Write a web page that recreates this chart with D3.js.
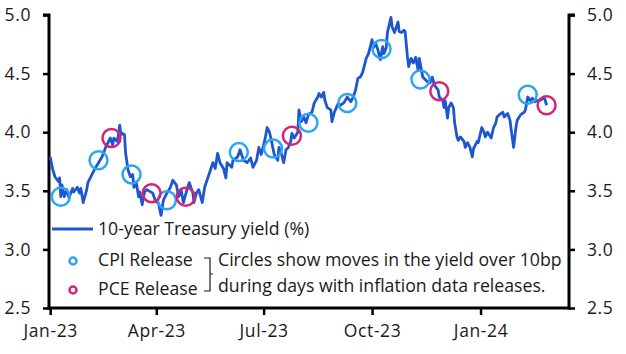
<!DOCTYPE html>
<html>
<head>
<meta charset="utf-8">
<script src="https://cdn.jsdelivr.net/npm/d3@7"></script>
<style>
  body { margin: 0; background: #fff; }
  svg { display: block; font-family: "Open Sans", Lato, sans-serif; }
</style>
</head>
<body>
<div id="chart"></div>
<script>
// 10-year Treasury yield
const yieldDates = [
  "2023-01-01","2023-01-03","2023-01-05","2023-01-08","2023-01-09","2023-01-10","2023-01-11","2023-01-13",
  "2023-01-15","2023-01-17","2023-01-20","2023-01-21","2023-01-24","2023-01-26","2023-01-27","2023-01-29",
  "2023-02-01","2023-02-02","2023-02-06","2023-02-08","2023-02-11","2023-02-14","2023-02-17","2023-02-19",
  "2023-02-21","2023-02-23","2023-02-24","2023-02-27","2023-03-01","2023-03-02","2023-03-03","2023-03-05",
  "2023-03-06","2023-03-08","2023-03-10","2023-03-12","2023-03-13","2023-03-15","2023-03-17","2023-03-18",
  "2023-03-20","2023-03-22","2023-03-24","2023-03-29","2023-03-31","2023-04-03","2023-04-05","2023-04-07",
  "2023-04-10","2023-04-13","2023-04-15","2023-04-18","2023-04-20","2023-04-22","2023-04-24","2023-04-27",
  "2023-04-29","2023-05-02","2023-05-03","2023-05-05","2023-05-07","2023-05-10","2023-05-12","2023-05-14",
  "2023-05-17","2023-05-19","2023-05-21","2023-05-23","2023-05-25","2023-05-28","2023-05-30","2023-05-31",
  "2023-06-04","2023-06-05","2023-06-09","2023-06-11","2023-06-14","2023-06-17","2023-06-20","2023-06-22",
  "2023-06-25","2023-06-27","2023-06-29","2023-07-02","2023-07-04","2023-07-06","2023-07-08","2023-07-10",
  "2023-07-13","2023-07-14","2023-07-16","2023-07-18","2023-07-20","2023-07-22","2023-07-24","2023-07-25",
  "2023-07-27","2023-07-30","2023-07-31","2023-08-02","2023-08-04","2023-08-06","2023-08-08","2023-08-11",
  "2023-08-13","2023-08-16","2023-08-17","2023-08-19","2023-08-21","2023-08-22","2023-08-24","2023-08-27",
  "2023-08-28","2023-08-30","2023-09-02","2023-09-04","2023-09-07","2023-09-10","2023-09-13","2023-09-15",
  "2023-09-17","2023-09-19","2023-09-21","2023-09-23","2023-09-25","2023-09-26","2023-09-28","2023-10-01",
  "2023-10-02","2023-10-04","2023-10-06","2023-10-08","2023-10-10","2023-10-11","2023-10-13","2023-10-14",
  "2023-10-17","2023-10-18","2023-10-20","2023-10-23","2023-10-24","2023-10-26","2023-10-28","2023-10-29",
  "2023-10-31","2023-11-01","2023-11-03","2023-11-05","2023-11-07","2023-11-09","2023-11-10","2023-11-13",
  "2023-11-15","2023-11-17","2023-11-19","2023-11-21","2023-11-23","2023-11-26","2023-11-27","2023-11-30",
  "2023-12-01","2023-12-02","2023-12-04","2023-12-05","2023-12-07","2023-12-09","2023-12-10","2023-12-12",
  "2023-12-13","2023-12-15","2023-12-18","2023-12-19","2023-12-21","2023-12-23","2023-12-25","2023-12-26",
  "2023-12-29","2023-12-30","2024-01-02","2024-01-04","2024-01-05","2024-01-07","2024-01-10","2024-01-12",
  "2024-01-14","2024-01-15","2024-01-17","2024-01-20","2024-01-21","2024-01-24","2024-01-26","2024-01-27",
  "2024-01-29","2024-01-31","2024-02-01","2024-02-04","2024-02-07","2024-02-08","2024-02-10","2024-02-12",
  "2024-02-14","2024-02-16","2024-02-18","2024-02-20","2024-02-23","2024-02-24","2024-02-26"
];
const yieldValues = [
  3.79,3.69,3.62,3.58,3.61,3.45,3.55,3.45,
  3.51,3.44,3.52,3.49,3.53,3.48,3.52,3.40,
  3.51,3.57,3.65,3.69,3.74,3.79,3.87,3.91,
  3.95,3.89,3.95,3.92,4.06,3.98,3.99,3.98,
  3.82,3.68,3.62,3.64,3.53,3.57,3.45,3.49,
  3.38,3.49,3.51,3.48,3.42,3.39,3.29,3.42,
  3.48,3.53,3.59,3.55,3.45,3.51,3.40,3.51,
  3.57,3.48,3.40,3.48,3.51,3.40,3.53,3.59,
  3.68,3.74,3.69,3.82,3.74,3.69,3.61,3.74,
  3.70,3.76,3.79,3.85,3.76,3.74,3.78,3.70,
  3.76,3.87,3.81,3.93,4.04,4.00,3.91,3.81,
  3.76,3.87,3.82,3.74,3.85,3.87,3.92,3.99,
  3.95,4.00,4.19,4.09,4.13,4.08,4.15,4.17,
  4.25,4.30,4.33,4.30,4.34,4.27,4.21,4.19,
  4.09,4.17,4.24,4.23,4.25,4.30,4.26,4.30,
  4.36,4.46,4.47,4.51,4.59,4.63,4.67,4.79,
  4.72,4.76,4.70,4.62,4.73,4.67,4.72,4.85,
  4.98,4.90,4.85,4.94,4.86,4.85,4.87,4.86,
  4.64,4.56,4.63,4.59,4.64,4.53,4.63,4.47,
  4.45,4.43,4.42,4.47,4.40,4.36,4.30,4.27,
  4.21,4.27,4.12,4.21,4.25,4.21,4.08,3.96,
  3.93,3.96,3.92,3.87,3.91,3.87,3.79,3.86,
  3.92,3.91,4.04,4.00,3.96,4.00,3.95,4.04,
  4.08,4.13,4.15,4.17,4.13,4.16,4.10,4.02,
  3.87,4.04,4.10,4.15,4.17,4.19,4.30,4.27,
  4.29,4.26,4.27,4.27,4.29,4.30,4.23
];

// release days with a move over 10bp
const cpiDates = ["2023-01-10","2023-02-11","2023-03-11","2023-04-10","2023-06-10","2023-07-09",
                  "2023-08-08","2023-09-10","2023-10-09","2023-11-11","2024-02-10"];
const cpiValues = [3.45,3.76,3.64,3.42,3.83,3.86,4.08,4.25,4.71,4.45,4.32];
const pceDates = ["2023-02-22","2023-03-28","2023-04-26","2023-07-25","2023-11-27","2024-02-26"];
const pceValues = [3.95,3.48,3.45,3.97,4.35,4.23];

const yTicks = [2.5, 3.0, 3.5, 4.0, 4.5, 5.0];
const xTickDates = ["2023-01-01","2023-04-01","2023-07-01","2023-10-01","2024-01-01"];

const parse = d3.timeParse("%Y-%m-%d");
const series = yieldDates.map((d, i) => ({ date: parse(d), value: yieldValues[i] }));
const cpi = cpiDates.map((d, i) => ({ date: parse(d), value: cpiValues[i] }));
const pce = pceDates.map((d, i) => ({ date: parse(d), value: pceValues[i] }));

const width = 626, height = 354;
const plotLeft = 49, plotRight = 569, plotTop = 15, plotBottom = 308;

const lineColor = "#1f56cf", cpiColor = "#2aa6f2", pceColor = "#d4237a";
const textColor = "#1a1a1a";

const svg = d3.select("#chart").append("svg")
  .attr("width", width)
  .attr("height", height);

const x = d3.scaleTime()
  .domain([parse("2022-12-31"), parse("2024-03-16")])
  .range([plotLeft, plotRight]);

const y = d3.scaleLinear()
  .domain([2.5, 5])
  .range([plotBottom, plotTop]);

// axes
const fmt = d3.format(".1f");
const yLeft = svg.append("g")
  .attr("transform", `translate(${plotLeft},0)`)
  .call(d3.axisLeft(y).tickValues(yTicks).tickFormat(fmt).tickSize(6).tickPadding(12));
const yRight = svg.append("g")
  .attr("transform", `translate(${plotRight},0)`)
  .call(d3.axisRight(y).tickValues(yTicks).tickFormat(fmt).tickSize(6).tickPadding(12));
const xAxis = svg.append("g")
  .attr("transform", `translate(0,${plotBottom})`)
  .call(d3.axisBottom(x).tickValues(xTickDates.map(parse)).tickFormat(d3.timeFormat("%b-%y"))
    .tickSize(7).tickPadding(10).tickSizeOuter(0));

[yLeft, yRight, xAxis].forEach(g => {
  g.select(".domain").attr("stroke", "#000").attr("stroke-width", 3);
  g.selectAll(".tick line").attr("stroke", "#000").attr("stroke-width", 2.5);
  g.selectAll(".tick text").attr("fill", textColor).style("font-size", "17.5px")
    .style("letter-spacing", "0.6px")
    .style("font-family", "'Open Sans', sans-serif");
});
yLeft.select(".domain").attr("d", `M-6,${plotTop}H0V${plotBottom + 1.5}`);
yRight.select(".domain").attr("d", `M6,${plotTop}H0V${plotBottom + 1.5}`);
xAxis.select(".domain").attr("d", `M${plotLeft - 1.5},0H${plotRight + 1.5}`);

// yield line
const line = d3.line()
  .x(d => x(d.date))
  .y(d => y(d.value));

svg.append("path")
  .datum(series)
  .attr("fill", "none")
  .attr("stroke", lineColor)
  .attr("stroke-width", 2.8)
  .attr("stroke-linejoin", "round")
  .attr("d", line);

// release circles
svg.selectAll(".cpi")
  .data(cpi)
  .enter()
  .append("circle")
  .attr("class", "cpi")
  .attr("cx", d => x(d.date))
  .attr("cy", d => y(d.value))
  .attr("r", 9)
  .attr("fill", "none")
  .attr("stroke", cpiColor)
  .attr("stroke-width", 2.5);

svg.selectAll(".pce")
  .data(pce)
  .enter()
  .append("circle")
  .attr("class", "pce")
  .attr("cx", d => x(d.date))
  .attr("cy", d => y(d.value))
  .attr("r", 9)
  .attr("fill", "none")
  .attr("stroke", pceColor)
  .attr("stroke-width", 2.5);

// legend
const legend = svg.append("g").style("font-size", "17.7px").attr("fill", textColor);

legend.append("line")
  .attr("x1", 52).attr("x2", 93).attr("y1", 229).attr("y2", 229)
  .attr("stroke", lineColor).attr("stroke-width", 3);
legend.append("text").attr("x", 98).attr("y", 235).text("10-year Treasury yield (%)");

legend.append("circle").attr("cx", 73).attr("cy", 261).attr("r", 3.5)
  .attr("fill", "none").attr("stroke", cpiColor).attr("stroke-width", 2.5);
legend.append("text").attr("x", 98).attr("y", 266).text("CPI Release");

legend.append("circle").attr("cx", 73).attr("cy", 290).attr("r", 3.5)
  .attr("fill", "none").attr("stroke", pceColor).attr("stroke-width", 2.5);
legend.append("text").attr("x", 98).attr("y", 295).text("PCE Release");

// brace
legend.append("path")
  .attr("d", "M204,258H210V274H213M210,274V291H204")
  .attr("fill", "none").attr("stroke", textColor).attr("stroke-width", 1.2);

legend.append("text").attr("x", 218).attr("y", 266).text("Circles show moves in the yield over 10bp");
legend.append("text").attr("x", 218).attr("y", 292).text("during days with inflation data releases.");
</script>
</body>
</html>
